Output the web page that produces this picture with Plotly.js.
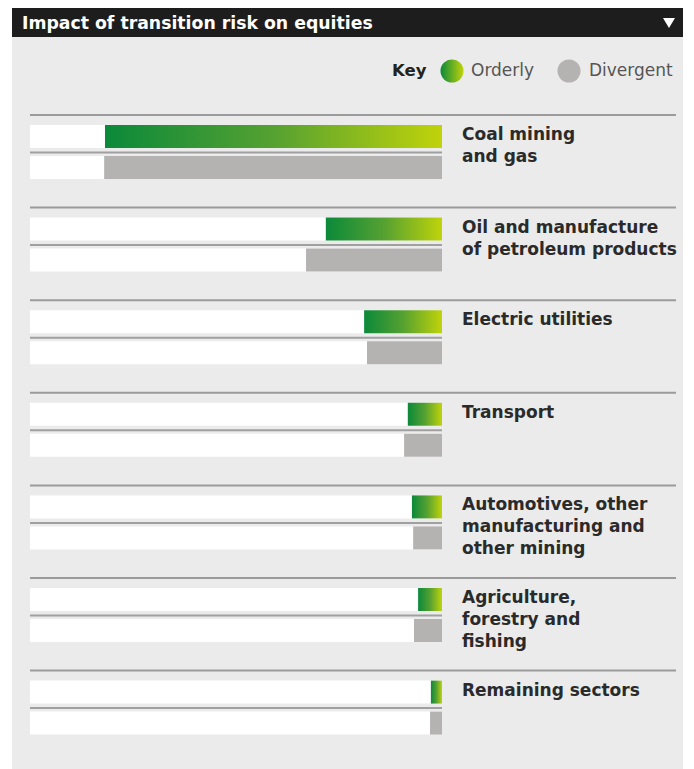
<!DOCTYPE html>
<html>
<head>
<meta charset="utf-8">
<script src="https://cdn.plot.ly/plotly-3.0.1.min.js"></script>
<style>html,body{margin:0;padding:0;background:#fff;}#chart{width:694px;height:769px;}</style>
</head>
<body>
<div id="chart"></div>
<script>
// ---- data ----
const sectors = [
  "Coal mining<br>and gas",
  "Oil and manufacture<br>of petroleum products",
  "Electric utilities",
  "Transport",
  "Automotives, other<br>manufacturing and<br>other mining",
  "Agriculture,<br>forestry and<br>fishing",
  "Remaining sectors"
];
const orderly   = [81.8, 28.2, 18.9, 8.3, 7.3, 5.8, 2.7];
const divergent = [82.0, 33.0, 18.2, 9.2, 7.0, 6.8, 2.9];
const trackMax = 100;
const titleText = "Impact of transition risk on equities";
const keyLabels = ["Orderly", "Divergent"];

// ---- layout constants (pixels) ----
const W = 694, H = 769;
const trackLeft = 30, trackRight = 442;
const groupTop0 = 115, groupStep = 92.6;
const barH = 23;
const offO = 21.5, offD = 52.5, offMid = 37.5;
const GREEN_DARK = '#0b893a', GREEN_LIGHT = '#c0d30a', GREY = '#b5b2b2';

const px = x => x / W;
const py = y => 1 - y / H;
const groupTop = i => groupTop0 + i * groupStep;
const yO = sectors.map((s, i) => groupTop(i) + offO);
const yD = sectors.map((s, i) => groupTop(i) + offD);

const traces = [];
// white tracks
traces.push({
  type: 'bar', orientation: 'h', x: yO.concat(yD).map(() => trackMax), y: yO.concat(yD),
  width: barH, marker: {color: '#ffffff', line: {width: 0}}, hoverinfo: 'skip', showlegend: false,
  xaxis: 'x', yaxis: 'y'
});
// divergent bars
traces.push({
  type: 'bar', orientation: 'h', x: divergent, y: yD, width: barH,
  marker: {color: GREY, line: {width: 0}}, hoverinfo: 'skip', showlegend: false,
  xaxis: 'x', yaxis: 'y'
});
// orderly gradient bars
orderly.forEach((v, i) => {
  const t = yO[i] - barH / 2, b = yO[i] + barH / 2;
  traces.push({
    type: 'scatter', mode: 'lines', x: [0, v, v, 0, 0], y: [t, t, b, b, t],
    fill: 'toself', line: {width: 0, color: 'rgba(0,0,0,0)'},
    fillgradient: {type: 'horizontal', start: 0, stop: v,
      colorscale: [[0, GREEN_LIGHT], [0.5, '#55a131'], [1, GREEN_DARK]]},
    hoverinfo: 'skip', showlegend: false, xaxis: 'x', yaxis: 'y'
  });
});
// key markers (pixel subplot)
traces.push({
  type: 'scatter', mode: 'markers', x: [452], y: [71], xaxis: 'x2', yaxis: 'y2',
  marker: {size: 23, color: GREEN_DARK, gradient: {type: 'horizontal', color: GREEN_LIGHT}, line: {width: 0}},
  hoverinfo: 'skip', showlegend: false, cliponaxis: false
});
traces.push({
  type: 'scatter', mode: 'markers', x: [569], y: [71], xaxis: 'x2', yaxis: 'y2',
  marker: {size: 23, color: GREY, line: {width: 0}},
  hoverinfo: 'skip', showlegend: false, cliponaxis: false
});

const shapes = [];
// panel background
shapes.push({type: 'rect', xref: 'paper', yref: 'paper', x0: px(12), x1: px(683), y0: py(37), y1: 0,
  fillcolor: '#ebebeb', line: {width: 0}, layer: 'below'});
// header
shapes.push({type: 'rect', xref: 'paper', yref: 'paper', x0: px(12), x1: px(683), y0: py(8), y1: py(37),
  fillcolor: '#1d1d1d', line: {width: 0}, layer: 'below'});
// triangle
shapes.push({type: 'path', xref: 'x2', yref: 'y2', path: 'M 663 18 L 675 18 L 669 28 Z',
  fillcolor: '#ffffff', line: {width: 0}});
// separators and middle lines
sectors.forEach((s, i) => {
  const g = groupTop(i);
  shapes.push({type: 'line', xref: 'x2', yref: 'y2', x0: trackLeft, x1: 676, y0: g, y1: g,
    line: {color: '#9b9b9b', width: 2}});
  shapes.push({type: 'line', xref: 'x2', yref: 'y2', x0: trackLeft, x1: trackRight, y0: g + offMid, y1: g + offMid,
    line: {color: '#a0a0a0', width: 2}});
});

const FONT = '"DejaVu Sans", sans-serif';
const annotations = [];
annotations.push({xref: 'x2', yref: 'y2', x: 20, y: 23, xanchor: 'left', yanchor: 'middle', showarrow: false,
  text: titleText, font: {family: FONT, size: 17.3, color: '#ffffff', weight: 700}});
annotations.push({xref: 'x2', yref: 'y2', x: 390, y: 70, xanchor: 'left', yanchor: 'middle', showarrow: false,
  text: 'Key', font: {family: FONT, size: 16.5, color: '#222222', weight: 700}});
annotations.push({xref: 'x2', yref: 'y2', x: 469, y: 70, xanchor: 'left', yanchor: 'middle', showarrow: false,
  text: keyLabels[0], font: {family: FONT, size: 17, color: '#555555', weight: 400}});
annotations.push({xref: 'x2', yref: 'y2', x: 587, y: 70, xanchor: 'left', yanchor: 'middle', showarrow: false,
  text: keyLabels[1], font: {family: FONT, size: 17, color: '#555555', weight: 400}});
sectors.forEach((s, i) => {
  annotations.push({xref: 'x2', yref: 'y2', x: 460, y: groupTop(i) + 7, xanchor: 'left', yanchor: 'top',
    align: 'left', showarrow: false, text: s,
    font: {family: FONT, size: 17, color: '#2a2a2a', weight: 700}});
});

const layout = {
  width: W, height: H, margin: {l: 0, r: 0, t: 0, b: 0, pad: 0},
  paper_bgcolor: '#ffffff', plot_bgcolor: 'rgba(0,0,0,0)',
  barmode: 'overlay', showlegend: false, hovermode: false,
  xaxis: {domain: [trackLeft / W, trackRight / W], range: [trackMax, 0], visible: false, fixedrange: true, anchor: 'y'},
  yaxis: {domain: [0, 1], range: [H, 0], visible: false, fixedrange: true, anchor: 'x'},
  xaxis2: {domain: [0, 1], range: [0, W], visible: false, fixedrange: true, anchor: 'y2'},
  yaxis2: {domain: [0, 1], range: [H, 0], visible: false, fixedrange: true, anchor: 'x2'},
  shapes: shapes, annotations: annotations
};

Plotly.newPlot('chart', traces, layout, {displayModeBar: false, staticPlot: true});
</script>
</body>
</html>
